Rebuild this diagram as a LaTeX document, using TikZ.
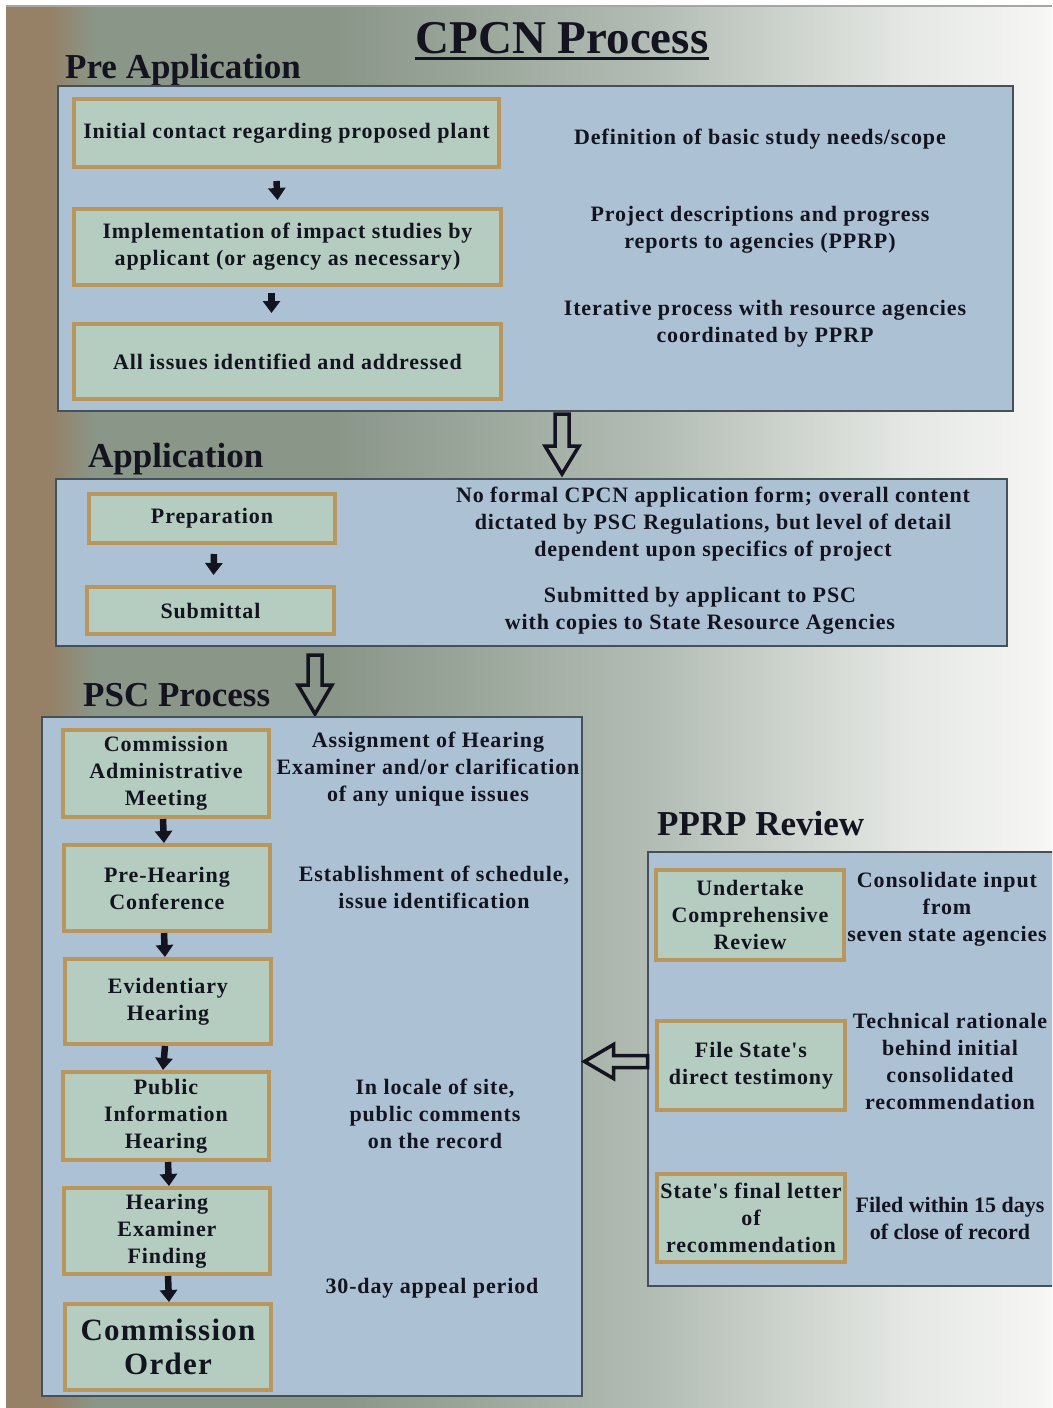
\documentclass[tikz,border=0pt]{standalone}
\usepackage{fontspec}
\setmainfont{Liberation Serif}
\newfontfamily\spacedserif[LetterSpace=4]{Liberation Serif}
\usetikzlibrary{arrows.meta,calc}
\definecolor{panelblue}{RGB}{172,193,212}
\definecolor{boxfill}{RGB}{180,205,192}
\definecolor{boxedge}{RGB}{184,150,92}
\definecolor{paneledge}{RGB}{70,80,88}
\definecolor{ink}{RGB}{20,20,32}
\definecolor{bgA}{RGB}{150,128,102}
\definecolor{bgB}{RGB}{138,150,136}
\definecolor{bgC}{RGB}{178,188,180}
\definecolor{bgD}{RGB}{228,231,227}
\definecolor{bgE}{RGB}{247,247,245}
\pgfdeclarehorizontalshading{bgshade}{100bp}{color(0bp)=(bgA); color(25bp)=(bgA); color(27.3bp)=(bgA); color(29.5bp)=(bgB); color(41bp)=(bgB); color(56bp)=(bgC); color(68bp)=(bgD); color(75bp)=(bgE); color(100bp)=(bgE)}
\tikzset{
  panel/.style={draw=paneledge, line width=1.5pt, fill=panelblue, anchor=north west, inner sep=0pt},
  box/.style={draw=boxedge, line width=4pt, fill=boxfill, anchor=north west, inner sep=0pt,
    align=center, text=ink, font=\spacedserif\bfseries\fontsize{22}{27}\selectfont},
  note/.style={align=center, text=ink, font=\spacedserif\bfseries\fontsize{22}{27}\selectfont, inner sep=0pt},
  head/.style={anchor=base west, text=ink, font=\bfseries\fontsize{35}{40}\selectfont, inner sep=0pt},
  sarrow/.style={draw=ink, line width=6.5pt, -{Triangle[width=17pt,length=12pt]}},
  hollow/.style={draw=ink, line width=3.5pt, line join=miter},
}
\begin{document}
\begin{tikzpicture}[x=1pt,y=-1pt]
\useasboundingbox (0,0) rectangle (1052,1408);
\clip (0,0) rectangle (1052,1408);
% background
\shade[shading=bgshade] (0,0) rectangle (1052,1408);
\fill[white] (0,0) rectangle (1052,5);
\fill[white] (0,0) rectangle (6,1408);
\draw[gray!70, line width=1.5pt] (6,6) -- (1052,6);

% title
\node[inner sep=0pt, text=ink, font=\bfseries\fontsize{47}{52}\selectfont] (title) at (562,38) {CPCN Process};
\draw[ink, line width=2.5pt] ([yshift=-5pt]title.base west) -- ([yshift=-5pt]title.base east);

% ---------------- Pre Application
\node[head] (hpre) at (65,78) {Pre Application};
\node[panel, minimum width=955pt, minimum height=325pt] (pre) at (57,85) {};
\node[box, minimum width=425pt, minimum height=68pt] (b1) at (72,97) {Initial contact regarding proposed plant};
\node[box, minimum width=427pt, minimum height=76pt] (b2) at (72,207) {Implementation of impact studies by\\applicant (or agency as necessary)};
\node[box, minimum width=427pt, minimum height=75pt] (b3) at (72,322) {All issues identified and addressed};
\draw[sarrow] ([xshift=-10pt,yshift=-12pt]b1.south) -- ([xshift=-10pt,yshift=7pt]b2.north);
\draw[sarrow] ([xshift=-16pt,yshift=-6pt]b2.south) -- ([xshift=-16pt,yshift=9pt]b3.north);
\node[note] (n1) at (760,139) {Definition of basic study needs/scope};
\node[note] (n2) at (760,230) {Project descriptions and progress\\reports to agencies (PPRP)};
\node[note] (n3) at (765,324) {Iterative process with resource agencies\\coordinated by PPRP};

% hollow arrow pre -> application
\coordinate (a1) at (562,414);
\draw[hollow] (a1) ++(-7,0) -- ++(14,0) -- ++(0,32) -- ++(10,0) -- ++(-17,28) -- ++(-17,-28) -- ++(10,0) -- cycle;

% ---------------- Application
\node[head] (happ) at (88,467) {Application};
\node[panel, minimum width=951pt, minimum height=167pt] (app) at (55,478) {};
\node[box, minimum width=246pt, minimum height=49pt] (prep) at (87,492) {Preparation};
\node[box, minimum width=247pt, minimum height=47pt] (subm) at (85,585) {Submittal};
\draw[sarrow] ([xshift=2pt,yshift=-9pt]prep.south) -- ([xshift=3pt,yshift=10pt]subm.north);
\node[note] (n4) at (713,524) {No formal CPCN application form; overall content\\dictated by PSC Regulations, but level of detail\\dependent upon specifics of project};
\node[note] (n5) at (700,611) {Submitted by applicant to PSC\\with copies to State Resource Agencies};

% hollow arrow application -> PSC
\coordinate (a2) at (315,655);
\draw[hollow] (a2) ++(-7,0) -- ++(14,0) -- ++(0,30) -- ++(10,0) -- ++(-17,29) -- ++(-17,-29) -- ++(10,0) -- cycle;

% ---------------- PSC Process
\node[head] (hpsc) at (83,706) {PSC Process};
\node[panel, minimum width=540pt, minimum height=679pt] (psc) at (41,716) {};
\node[box, minimum width=206pt, minimum height=87pt] (p1) at (61,728) {Commission\\Administrative\\Meeting};
\node[box, minimum width=206pt, minimum height=86pt] (p2) at (62,843) {Pre-Hearing\\Conference};
\node[box, minimum width=206pt, minimum height=85pt] (p3) at (63,957) {Evidentiary\\Hearing};
\node[box, minimum width=206pt, minimum height=88pt] (p4) at (61,1070) {Public\\Information\\Hearing};
\node[box, minimum width=206pt, minimum height=86pt] (p5) at (62,1186) {Hearing\\Examiner\\Finding};
\node[box, minimum width=206pt, minimum height=86pt, font=\spacedserif\bfseries\fontsize{31}{34}\selectfont] (p6) at (63,1302) {Commission\\Order};
\draw[sarrow] ([xshift=-3pt]p1.south) -- ([xshift=-3pt]p2.north);
\draw[sarrow] ([xshift=-3pt]p2.south) -- ([xshift=-3pt]p3.north);
\draw[sarrow] ([xshift=-3pt]p3.south) -- ([xshift=-3pt]p4.north);
\draw[sarrow] ([xshift=2pt]p4.south) -- ([xshift=2pt]p5.north);
\draw[sarrow] ([xshift=1pt]p5.south) -- ([xshift=1pt]p6.north);
\node[note] (n6) at (428,769) {Assignment of Hearing\\Examiner and/or clarification\\of any unique issues};
\node[note] (n7) at (434,887) {Establishment of schedule,\\issue identification};
\node[note] (n8) at (435,1114) {In locale of site,\\public comments\\on the record};
\node[note] (n9) at (432,1288) {30-day appeal period};

% ---------------- PPRP Review
\node[head] (hpprp) at (657,835) {PPRP Review};
\node[panel, minimum width=420pt, minimum height=434pt] (pprp) at (647,851) {};
\node[box, minimum width=188pt, minimum height=90pt] (r1) at (654,868) {Undertake\\Comprehensive\\Review};
\node[box, minimum width=188pt, minimum height=89pt] (r2) at (655,1019) {File State's\\direct testimony};
\node[box, minimum width=188pt, minimum height=88pt] (r3) at (655,1172) {State's final letter\\of\\recommendation};
\node[note] (n10) at (947,909) {Consolidate input\\from\\seven state agencies};
\node[note] (n11) at (950,1061) {Technical rationale\\behind initial\\consolidated\\recommendation};
\node[note, font=\bfseries\fontsize{22}{27}\selectfont] (n12) at (950,1218) {Filed within 15 days\\of close of record};

% hollow arrow PPRP -> PSC
\coordinate (a3) at (psc.east |- r2.west);
\draw[hollow] ([xshift=2pt,yshift=4pt]a3) -- ++(29,-17) -- ++(0,11) -- ++(34,0) -- ++(0,12) -- ++(-34,0) -- ++(0,11) -- cycle;
\end{tikzpicture}
\end{document}
